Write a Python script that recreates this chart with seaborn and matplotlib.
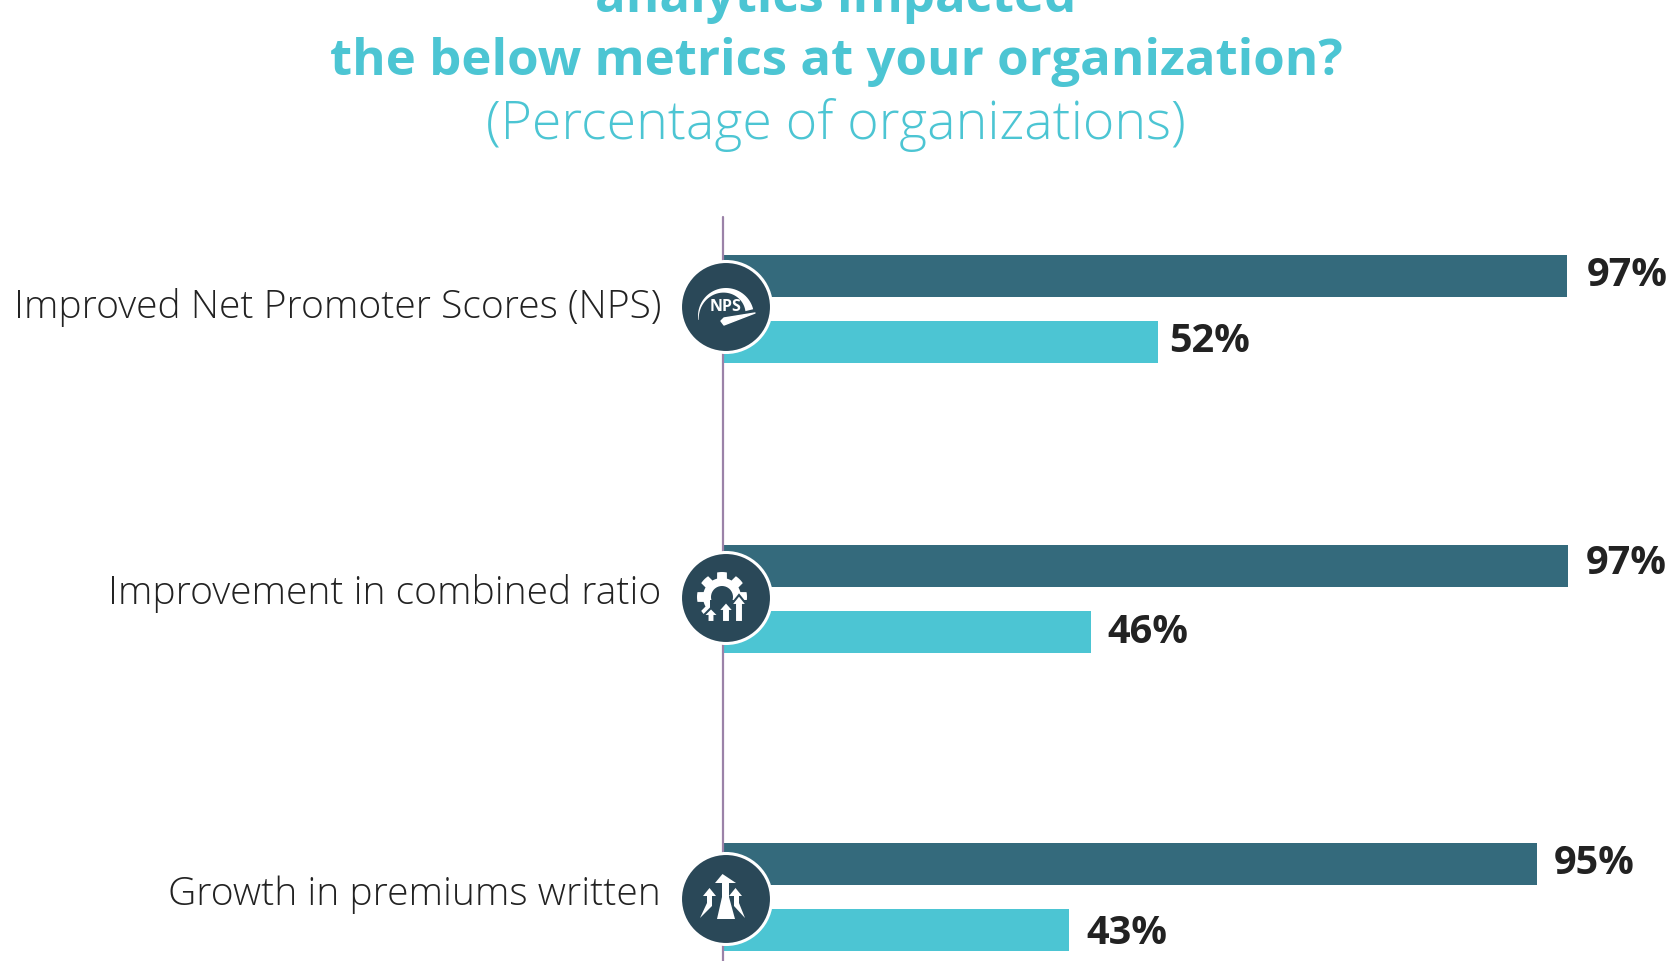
"""
Grouped bars of metrics impacted, three small panels stacked on one figure with round icons on the axis
"""

import numpy as np
import pandas as pd
import matplotlib
matplotlib.use('Agg')
import matplotlib.pyplot as plt
from matplotlib.patches import Circle, Polygon, Rectangle
import seaborn as sns

# Data
metrics = ['Improved Net Promoter Scores (NPS)', 'Improvement in combined ratio', 'Growth in premiums written']
series = ['Dark', 'Light']
# Printed values
dark_labels = [97, 97, 95]
light_labels = [52, 46, 43]
# Drawn bar lengths, the picture's bars are not quite proportional to the printed values
dark_lengths = [97.0, 97.1, 93.6]
light_lengths = [50.0, 42.3, 39.8]

DARK = '#346a7c'
LIGHT = '#4cc5d3'
NAVY = '#2a4858'
PURPLE = '#9b82a8'
TEXT = '#222222'
W, H = 1668, 962
AXIS_X = 722.5
PX_PER_UNIT = 8.706

sns.set_theme(style='white')
plt.rcParams['font.family'] = ['Open Sans', 'DejaVu Sans']

fig = plt.figure(figsize=(W / 100, H / 100), dpi=100, facecolor='white')


def panel(center_y):
    # Axes placed in pixels, 66 px from one bar centre to the next
    height = 132
    return fig.add_axes([AXIS_X / W, 1 - (center_y + height / 2) / H, (W - AXIS_X) / W, height / H])


centers = [310, 600, 898]
# (x pad, y shift) of the value labels in pixels
dark_pads = [(20, -1), (18, -3.5), (16, -1)]
light_pads = [(11, -1), (17, 0), (17, 3)]

for i, cy in enumerate(centers):
    ax = panel(cy)
    df = pd.DataFrame({'series': series, 'length': [dark_lengths[i], light_lengths[i]]})
    sns.barplot(data=df, x='length', y='series', hue='series', palette=[DARK, LIGHT], saturation=1,
                width=0.625, dodge=False, legend=False, linewidth=0, ax=ax)
    ax.set_xlim(0, (W - AXIS_X) / PX_PER_UNIT)
    ax.axis('off')
    values = [dark_labels[i], light_labels[i]]
    lengths = df['length'].tolist()
    pads = [dark_pads[i], light_pads[i]]
    for j in range(2):
        ax.annotate(f'{values[j]}%', xy=(lengths[j], j), xytext=(pads[j][0] * 0.72, -pads[j][1] * 0.72),
                    textcoords='offset points', ha='left', va='center', fontsize=28.5, fontweight='bold',
                    family='Open Sans', color=TEXT, annotation_clip=False)

# Overlay in pixel coordinates for the text, axis line and icons
over = fig.add_axes([0, 0, 1, 1], zorder=5)
over.set_xlim(0, W)
over.set_ylim(H, 0)
over.axis('off')

over.plot([AXIS_X + 0.5, AXIS_X + 0.5], [218, H], color=PURPLE, lw=1.6, zorder=1)

title_kw = dict(ha='center', va='baseline', color=LIGHT, clip_on=False, family='Open Sans')
over.text(836, 12, 'analytics impacted', fontsize=36.7, fontweight='bold', **title_kw)
over.text(836, 75, 'the below metrics at your organization?', fontsize=36.7, fontweight='bold', **title_kw)
over.text(836, 139, '(Percentage of organizations)', fontsize=38.6, fontweight='light', **title_kw)

label_y = [307.5, 593.5, 895]
for name, y in zip(metrics, label_y):
    over.text(661, y, name, ha='right', va='center', fontsize=28.1, fontweight='light', family='Open Sans', color=TEXT)


def base_circle(cx, cy):
    over.add_patch(Circle((cx, cy), 45.5, facecolor=NAVY, edgecolor='white', lw=2.2, zorder=3))


def arrow(cx, base, top, shaft, head, head_h, edge=None):
    pts = [(cx - shaft / 2, base), (cx - shaft / 2, top + head_h), (cx - head / 2, top + head_h), (cx, top),
           (cx + head / 2, top + head_h), (cx + shaft / 2, top + head_h), (cx + shaft / 2, base)]
    over.add_patch(Polygon(pts, closed=True, facecolor='white', edgecolor=edge or 'none',
                           lw=1.5 if edge else 0, zorder=6))


def nps_icon(cx, cy):
    base_circle(cx, cy)
    ang = np.radians(np.linspace(188, 14, 40))
    thick = np.linspace(0.5, 8, 40)
    outer = np.c_[cx + 28 * np.cos(ang), cy + 9 - 28 * np.sin(ang)]
    inner = np.c_[cx + (28 - thick) * np.cos(ang), cy + 9 - (28 - thick) * np.sin(ang)]
    over.add_patch(Polygon(np.r_[outer, inner[::-1]], closed=True, facecolor='white', edgecolor='none', zorder=4))
    over.text(cx, cy - 1, 'NPS', ha='center', va='center', color='white', fontsize=11.5, fontweight='bold',
              family='Open Sans', zorder=5)
    # Needle with a rounded tail
    over.add_patch(Polygon([(cx + 29, cy + 6), (cx - 2, cy + 11), (cx - 5, cy + 14), (cx - 2, cy + 18)],
                           closed=True, facecolor='white', edgecolor='white', lw=1, joinstyle='round', zorder=4))


def gear_icon(cx, cy):
    base_circle(cx, cy)
    gx, gy = cx - 4, cy - 1
    theta = np.linspace(0, 2 * np.pi, 97)
    r = np.where(((theta + np.pi / 16) % (np.pi / 4)) < np.pi / 8, 25, 19)
    over.add_patch(Polygon(np.c_[gx + r * np.cos(theta), gy + r * np.sin(theta)], closed=True,
                           facecolor='white', edgecolor='none', zorder=4))
    over.add_patch(Circle((gx, gy), 11, facecolor=NAVY, edgecolor='none', zorder=5))
    # Bottom right of the gear is cut away for the arrows
    over.add_patch(Rectangle((gx - 12, gy + 3), 40, 26, facecolor=NAVY, edgecolor='none', zorder=5))
    arrow(cx - 15, cy + 24, cy + 10, 7, 16, 8, edge=NAVY)
    arrow(cx, cy + 24, cy + 4, 8, 16, 9, edge=NAVY)
    arrow(cx + 13, cy + 24, cy - 3, 8, 16, 10, edge=NAVY)


def growth_icon(cx, cy):
    base_circle(cx, cy)
    over.add_patch(Polygon([(cx - 3.5, cy - 25), (cx - 11, cy - 16), (cx - 4, cy - 16), (cx - 4, cy - 2),
                            (cx - 9, cy + 20), (cx + 9, cy + 20), (cx + 3, cy - 2), (cx + 3, cy - 16),
                            (cx + 10, cy - 16)], closed=True, facecolor='white', edgecolor='none', zorder=4))
    over.add_patch(Polygon([(cx - 16.5, cy - 11), (cx - 23, cy - 3), (cx - 19, cy - 3), (cx - 19, cy + 4),
                            (cx - 26, cy + 19), (cx - 14, cy + 7), (cx - 14, cy - 3), (cx - 10, cy - 3)],
                           closed=True, facecolor='white', edgecolor='none', zorder=4))
    over.add_patch(Polygon([(cx + 9.5, cy - 11), (cx + 3, cy - 3), (cx + 8, cy - 3), (cx + 8, cy + 7),
                            (cx + 19, cy + 19), (cx + 13, cy + 4), (cx + 13, cy - 3), (cx + 16, cy - 3)],
                           closed=True, facecolor='white', edgecolor='none', zorder=4))


nps_icon(726, 308)
gear_icon(726, 599)
growth_icon(726, 900)

fig.savefig('out.png', dpi=100, facecolor='white')
